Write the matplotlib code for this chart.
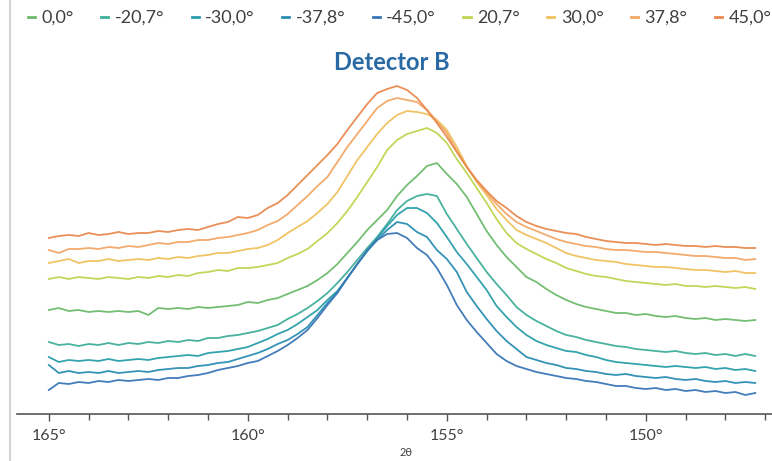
import numpy as np
import matplotlib
matplotlib.use("Agg")
import matplotlib.pyplot as plt
from matplotlib.lines import Line2D
from matplotlib.ticker import MultipleLocator, FuncFormatter

# scan positions, 2theta in degrees (0.25 deg steps)
two_theta = np.linspace(165.0, 147.25, 72)

# intensities (arbitrary units), one list per tilt angle
i_0 = [104, 106, 103, 104, 102, 103, 102, 103,
       102, 103, 99, 106, 105, 106, 105, 107,
       106, 107, 108, 109, 112, 111, 114, 116,
       120, 124, 128, 134, 141, 150, 161, 172,
       184, 194, 204, 218, 229, 238, 248, 251,
       240, 230, 217, 200, 183, 169, 157, 147,
       137, 132, 125, 119, 114, 110, 107, 105,
       103, 101, 101, 99, 100, 98, 97, 98,
       96, 95, 96, 94, 95, 94, 93, 94]
i_m207 = [72, 69, 70, 68, 70, 69, 71, 69,
          71, 70, 72, 71, 73, 72, 74, 73,
          76, 76, 78, 79, 81, 83, 86, 89,
          95, 100, 106, 113, 121, 131, 142, 154,
          166, 177, 190, 204, 213, 218, 220, 218,
          200, 185, 170, 156, 142, 130, 119, 107,
          99, 93, 88, 83, 79, 77, 74, 72,
          70, 68, 67, 65, 64, 63, 62, 63,
          61, 60, 61, 59, 60, 58, 60, 58]
i_m300 = [57, 52, 54, 53, 54, 53, 55, 53,
          54, 55, 54, 56, 57, 58, 59, 58,
          61, 62, 63, 65, 67, 71, 75, 80,
          84, 90, 97, 104, 114, 123, 136, 150,
          163, 176, 188, 199, 206, 206, 201, 191,
          177, 162, 150, 137, 124, 108, 97, 87,
          79, 73, 69, 66, 63, 62, 59, 57,
          54, 52, 51, 50, 49, 48, 47, 48,
          47, 46, 47, 45, 46, 44, 45, 43]
i_m378 = [49, 41, 43, 41, 42, 41, 43, 41,
          42, 43, 42, 44, 45, 46, 46, 48,
          49, 51, 52, 55, 58, 61, 65, 70,
          74, 80, 87, 99, 111, 122, 136, 150,
          163, 174, 184, 192, 190, 182, 177, 164,
          155, 142, 122, 108, 95, 83, 73, 65,
          57, 54, 51, 49, 46, 45, 43, 42,
          40, 39, 40, 38, 37, 36, 37, 35,
          34, 35, 33, 32, 33, 31, 32, 31]
i_m450 = [24, 31, 30, 32, 31, 33, 32, 34,
          33, 34, 35, 34, 36, 36, 38, 39,
          41, 44, 46, 48, 51, 53, 58, 63,
          69, 76, 84, 96, 109, 121, 136, 150,
          164, 174, 180, 181, 176, 166, 159, 146,
          129, 109, 94, 82, 71, 60, 53, 48,
          45, 42, 40, 38, 36, 35, 33, 32,
          30, 28, 28, 26, 25, 26, 24, 25,
          23, 24, 22, 23, 21, 22, 19, 21]
i_207 = [135, 137, 135, 137, 136, 135, 137, 136,
         135, 137, 136, 138, 137, 139, 138, 141,
         142, 144, 143, 146, 146, 147, 149, 151,
         156, 160, 165, 173, 181, 191, 203, 217,
         232, 247, 264, 274, 280, 283, 286, 281,
         271, 255, 241, 226, 211, 195, 181, 171,
         165, 160, 155, 151, 146, 143, 140, 138,
         137, 135, 133, 132, 131, 130, 129, 130,
         128, 128, 127, 128, 127, 126, 127, 125]
i_300 = [151, 153, 155, 151, 153, 153, 155, 153,
         154, 155, 154, 156, 155, 157, 156, 158,
         159, 161, 161, 163, 165, 166, 169, 174,
         181, 187, 193, 201, 210, 222, 238, 254,
         267, 280, 291, 299, 303, 302, 300, 294,
         284, 267, 248, 232, 219, 205, 194, 184,
         179, 175, 171, 166, 161, 158, 156, 154,
         153, 152, 150, 149, 148, 147, 147, 146,
         145, 144, 144, 143, 142, 143, 141, 141]
i_378 = [164, 161, 165, 165, 166, 165, 167, 166,
         168, 167, 169, 171, 170, 172, 172, 174,
         174, 176, 177, 179, 181, 184, 189, 193,
         200, 209, 218, 228, 237, 252, 267, 280,
         293, 306, 313, 316, 314, 312, 304, 293,
         281, 263, 247, 233, 221, 210, 200, 192,
         187, 183, 179, 175, 172, 170, 168, 167,
         165, 164, 164, 163, 162, 162, 161, 160,
         159, 158, 158, 157, 156, 156, 154, 155]
i_450 = [176, 178, 179, 178, 181, 179, 180, 182,
         180, 181, 181, 183, 182, 184, 185, 184,
         187, 190, 192, 197, 196, 199, 206, 211,
         219, 229, 239, 249, 259, 270, 284, 297,
         310, 321, 325, 328, 324, 316, 304, 291,
         277, 262, 247, 234, 223, 213, 206, 198,
         192, 188, 185, 183, 181, 180, 177, 175,
         173, 172, 171, 171, 170, 169, 170, 169,
         168, 168, 167, 168, 167, 167, 166, 166]

labels = ["0,0°", "-20,7°", "-30,0°", "-37,8°", "-45,0°",
          "20,7°", "30,0°", "37,8°", "45,0°"]
series = [i_0, i_m207, i_m300, i_m378, i_m450, i_207, i_300, i_378, i_450]
colors = ["#6cbb6c", "#3fae9a", "#2a9eaa", "#2a8db2", "#3a76b6",
          "#bdd651", "#f0c15e", "#f2a765", "#e9894f"]

plt.rcParams['font.family'] = ['Lato', 'DejaVu Sans']

fig = plt.figure(figsize=(7.72, 4.61), dpi=100)
ax = fig.add_axes([17 / 772, 47 / 461, 755 / 772, 334 / 461])

for vals, lab, col in zip(series, labels, colors):
    ax.plot(two_theta, vals, color=col, lw=1.3, label=lab, alpha=0.95)

ax.set_xlim(165.8, 146.83)
ax.set_ylim(0, 334)

for s in ["top", "right", "left"]:
    ax.spines[s].set_visible(False)
ax.spines["bottom"].set_color("#555555")
ax.spines["bottom"].set_linewidth(1.2)
ax.set_yticks([])
ax.xaxis.set_major_locator(MultipleLocator(5))
ax.xaxis.set_minor_locator(MultipleLocator(1))
ax.xaxis.set_major_formatter(FuncFormatter(lambda v, p: "%d°" % round(v)))
ax.tick_params(axis="x", which="major", length=5, width=1, color="#555555",
               labelsize=11.5, labelcolor="#404040", pad=6)
ax.tick_params(axis="x", which="minor", length=4, width=1, color="#555555")

ax.set_xlabel("2θ", fontsize=8, color="#404040")
ax.xaxis.set_label_coords((406 - 17) / 755, -0.1)

fig.text(392 / 772, 1 - 62 / 461, "Detector B", ha="center", va="center",
         fontsize=17, fontweight="bold", color="#2a6aa4")

handles = [Line2D([], [], color=c, lw=2) for c in colors]
fig.legend(handles, labels, loc="center left", bbox_to_anchor=(28 / 772, 1 - 18 / 461),
           ncol=9, frameon=False, handlelength=0.4, handletextpad=0.35,
           columnspacing=1.52, fontsize=13, labelcolor="#404040",
           borderaxespad=0, borderpad=0)

# thin grey frame edge on the left of the chart area
fig.add_artist(Line2D([10 / 772, 10 / 772], [0, 1], color="#d4d4d4", lw=1.5,
                      transform=fig.transFigure))

fig.savefig("out.png", dpi=100)
